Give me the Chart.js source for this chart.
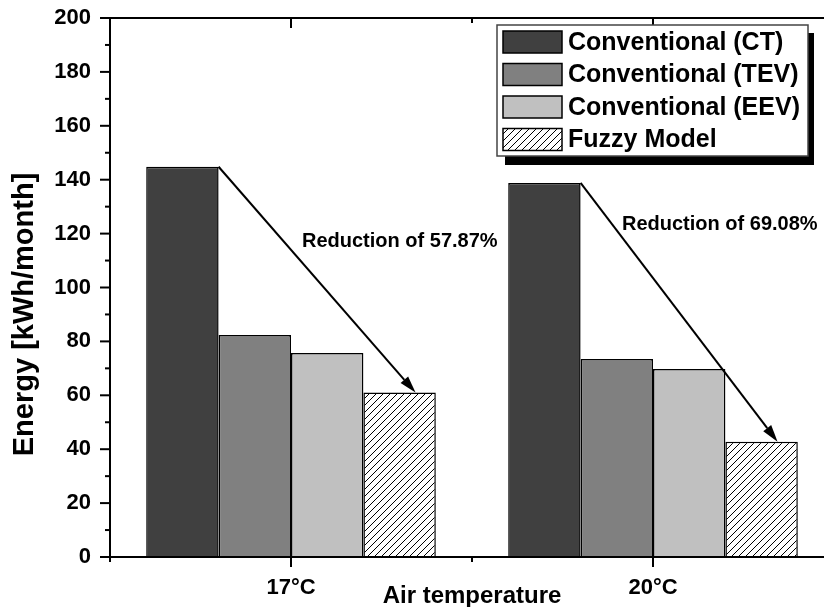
<!DOCTYPE html>
<html>
<head>
<meta charset="utf-8">
<script src="https://cdn.jsdelivr.net/npm/chart.js@4.4.1/dist/chart.umd.min.js"></script>
<style>
  html, body { margin: 0; padding: 0; overflow: hidden; background: #fff; }
  #contenedor { width: 840px; height: 607px; }
</style>
</head>
<body>
<div id="contenedor"><canvas id="chartEnergia"></canvas></div>
<script>
// Datos: energía mensual por tipo de control y temperatura de aire
const temperaturas = ['17°C', '20°C'];
const energiaCT = [144.8, 138.8];
const energiaTEV = [82.4, 73.5];
const energiaEEV = [75.7, 69.8];
const energiaFuzzy = [61.0, 42.8];
const etiquetasReduccion = ['Reduction of 57.87%', 'Reduction of 69.08%'];
const nombresSeries = ['Conventional (CT)', 'Conventional (TEV)', 'Conventional (EEV)', 'Fuzzy Model'];

const FUENTE = "'Liberation Sans', Arial, sans-serif";

const canvas = document.getElementById('chartEnergia');
const ctxPrincipal = canvas.getContext('2d');

// Rayado diagonal para el modelo difuso
function crearRayado() {
  const c = document.createElement('canvas');
  c.width = 7; c.height = 7;
  const g = c.getContext('2d');
  g.fillStyle = '#fff';
  g.fillRect(0, 0, 7, 7);
  g.strokeStyle = '#000';
  g.lineWidth = 1;
  g.beginPath();
  g.moveTo(-1, 8); g.lineTo(8, -1);
  g.stroke();
  return ctxPrincipal.createPattern(c, 'repeat');
}
const rayado = crearRayado();

function linea(ctx, x0, y0, x1, y1) {
  ctx.beginPath();
  ctx.moveTo(x0, y0);
  ctx.lineTo(x1, y1);
  ctx.stroke();
}

// Marco de ejes y marcas (mayores y menores)
const marcoEjes = {
  id: 'marcoEjes',
  afterDatasetsDraw(chart) {
    const { ctx, chartArea: a, scales: { x, y } } = chart;
    ctx.save();
    ctx.strokeStyle = '#000';
    ctx.lineWidth = 2;
    ctx.strokeRect(a.left, a.top, a.right - a.left, a.bottom - a.top);

    for (let v = 0; v <= 200; v += 10) {
      const py = y.getPixelForValue(v);
      const largo = v % 20 === 0 ? 10 : 5;
      linea(ctx, a.left - largo, py, a.left, py);
      linea(ctx, a.right - largo, py, a.right, py);
    }
    temperaturas.forEach((t, i) => {
      const px = x.getPixelForValue(i);
      linea(ctx, px, a.bottom, px, a.bottom + 10);
      linea(ctx, px, a.top, px, a.top + 10);
    });
    for (let i = 0; i <= temperaturas.length; i++) {
      const px = x.getPixelForValue(i - 0.5);
      linea(ctx, px, a.bottom, px, a.bottom + 5);
      linea(ctx, px, a.top, px, a.top + 5);
    }
    ctx.restore();
  }
};

// Flechas de reducción, textos, títulos de ejes y leyenda
const anotaciones = {
  id: 'anotaciones',
  afterDraw(chart) {
    const { ctx, chartArea: a, scales: { x, y } } = chart;
    const metaCT = chart.getDatasetMeta(0);
    const metaFuzzy = chart.getDatasetMeta(3);
    ctx.save();

    // Flechas desde CT hasta el modelo difuso
    ctx.strokeStyle = '#000';
    ctx.fillStyle = '#000';
    ctx.lineWidth = 2;
    metaCT.data.forEach((barra, i) => {
      const f = metaFuzzy.data[i];
      const x0 = barra.x + barra.width / 2, y0 = barra.y;
      const x1 = f.x + f.width * 0.22, y1 = f.y;
      const ang = Math.atan2(y1 - y0, x1 - x0);
      const largo = 17, ancho = 5;
      const bx = x1 - largo * Math.cos(ang), by = y1 - largo * Math.sin(ang);
      linea(ctx, x0, y0, bx, by);
      ctx.beginPath();
      ctx.moveTo(x1, y1);
      ctx.lineTo(bx + ancho * Math.sin(ang), by - ancho * Math.cos(ang));
      ctx.lineTo(bx - ancho * Math.sin(ang), by + ancho * Math.cos(ang));
      ctx.closePath();
      ctx.fill();
    });

    ctx.font = `bold 20px ${FUENTE}`;
    ctx.textAlign = 'left';
    ctx.textBaseline = 'alphabetic';
    ctx.fillText(etiquetasReduccion[0], x.getPixelForValue(0) + 11, y.getPixelForValue(115));
    ctx.fillText(etiquetasReduccion[1], x.getPixelForValue(1) - 31, y.getPixelForValue(121.3));

    // Títulos de ejes
    ctx.font = `bold 24px ${FUENTE}`;
    ctx.textAlign = 'center';
    ctx.fillText('Air temperature', (a.left + a.right) / 2, 603);
    ctx.save();
    ctx.translate(33, y.getPixelForValue(90));
    ctx.rotate(-Math.PI / 2);
    ctx.font = `bold 29px ${FUENTE}`;
    ctx.fillText('Energy [kWh/month]', 0, 0);
    ctx.restore();

    // Leyenda con sombra
    const lx = a.right - 337, ly = a.top + 7, lw = 311, lh = 131;
    ctx.fillStyle = '#000';
    ctx.fillRect(lx + 8, ly + 8, lw - 2, lh + 1);
    ctx.fillStyle = '#fff';
    ctx.fillRect(lx, ly, lw, lh);
    ctx.strokeStyle = '#444';
    ctx.lineWidth = 1.5;
    ctx.strokeRect(lx, ly, lw, lh);

    ctx.font = `bold 25px ${FUENTE}`;
    ctx.textAlign = 'left';
    ctx.textBaseline = 'middle';
    chart.data.datasets.forEach((ds, i) => {
      const ry = ly + 6 + i * 32.5;
      ctx.fillStyle = ds.backgroundColor;
      ctx.fillRect(lx + 6, ry, 59, 22);
      ctx.strokeStyle = '#000';
      ctx.lineWidth = 1.5;
      ctx.strokeRect(lx + 6, ry, 59, 22);
      ctx.fillStyle = '#000';
      ctx.fillText(ds.label, lx + 71, ry + 12);
    });
    ctx.restore();
  }
};

const serie = (label, data, color) => ({
  label,
  data,
  backgroundColor: color,
  borderColor: '#000',
  borderWidth: 1.5,
  barPercentage: 1,
  categoryPercentage: 0.8
});

const fuenteTicks = { family: FUENTE, size: 22, weight: 'bold' };

new Chart(ctxPrincipal, {
  type: 'bar',
  data: {
    labels: temperaturas,
    datasets: [
      serie(nombresSeries[0], energiaCT, '#404040'),
      serie(nombresSeries[1], energiaTEV, '#808080'),
      serie(nombresSeries[2], energiaEEV, '#c0c0c0'),
      serie(nombresSeries[3], energiaFuzzy, rayado)
    ]
  },
  options: {
    responsive: true,
    maintainAspectRatio: false,
    animation: false,
    layout: { padding: { top: 18, right: 6, left: 0, bottom: 0 } },
    plugins: {
      legend: { display: false },
      tooltip: { enabled: false }
    },
    scales: {
      x: {
        grid: { display: false, drawTicks: false },
        border: { display: false },
        ticks: { color: '#000', padding: 18, font: fuenteTicks },
        afterFit(s) { s.height = 50; }
      },
      y: {
        min: 0,
        max: 200,
        grid: { display: false, drawTicks: false },
        border: { display: false },
        ticks: { stepSize: 20, color: '#000', padding: 19, font: fuenteTicks },
        afterFit(s) {
          s.width = 110;
          s.paddingTop = 0;
          s.paddingBottom = 0;
        }
      }
    }
  },
  plugins: [marcoEjes, anotaciones]
});
</script>
</body>
</html>
